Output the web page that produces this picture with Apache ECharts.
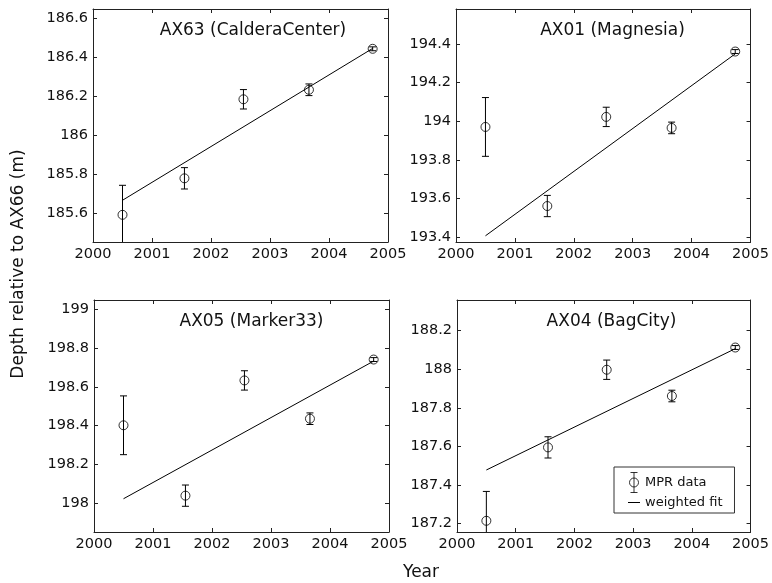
<!DOCTYPE html>
<html>
<head>
<meta charset="utf-8">
<script src="https://cdn.jsdelivr.net/npm/echarts@6/dist/echarts.min.js"></script>
<style>
  html, body { margin: 0; padding: 0; background: #fff; }
  #main { width: 772px; height: 583px; }
</style>
</head>
<body>
<div id="main"></div>
<script>
// data
var years = [2000.5, 2001.55, 2002.55, 2003.66, 2004.74];
var errs = [0.152, 0.055, 0.05, 0.03, 0.01];
var fitYears = [2000.5, 2004.74];

var names = ['AX63 (CalderaCenter)', 'AX01 (Magnesia)', 'AX05 (Marker33)', 'AX04 (BagCity)'];
var ax63 = [185.59, 185.778, 186.185, 186.234, 186.445];
var ax01 = [193.97, 193.561, 194.022, 193.965, 194.36];
var ax05 = [198.402, 198.038, 198.634, 198.436, 198.742];
var ax04 = [187.215, 187.595, 187.997, 187.861, 188.112];
var fit63 = [185.665, 186.447];
var fit01 = [193.407, 194.348];
var fit05 = [198.022, 198.734];
var fit04 = [187.478, 188.106];

var yTicks63 = [185.6, 185.8, 186, 186.2, 186.4, 186.6];
var yTicks01 = [193.4, 193.6, 193.8, 194, 194.2, 194.4];
var yTicks05 = [198, 198.2, 198.4, 198.6, 198.8, 199];
var yTicks04 = [187.2, 187.4, 187.6, 187.8, 188, 188.2];
var yRanges = [[185.45, 186.65], [193.375, 194.58], [197.85, 199.05], [187.157, 188.358]];

var values = [ax63, ax01, ax05, ax04];
var fits = [fit63, fit01, fit05, fit04];
var yTicks = [yTicks63, yTicks01, yTicks05, yTicks04];

// layout
var grids = [
  {left: 93, top: 9, width: 295, height: 233},
  {left: 456, top: 9, width: 295, height: 233},
  {left: 94, top: 300, width: 295, height: 232},
  {left: 457, top: 300, width: 294, height: 232}
];
var titleX = [248, 607.5, 246.5, 606.5];

var FONT = 'DejaVu Sans';
var INK = '#111';
var lineC = '#222';

var chart = echarts.init(document.getElementById('main'), null, {renderer: 'canvas'});

var xAxes = [], yAxes = [], series = [], titles = [];

grids.forEach(function (g, i) {
  // bottom x axis with labels
  xAxes.push({
    gridIndex: i, type: 'value', position: 'bottom',
    min: 2000, max: 2005, interval: 1,
    axisLine: {show: true, onZero: false, lineStyle: {color: lineC, width: 1}},
    axisTick: {show: true, inside: true, length: 4, lineStyle: {color: lineC}},
    axisLabel: {show: true, margin: 5, color: INK, fontFamily: FONT, fontSize: 14.5,
      formatter: function (v) { return String(v); }},
    splitLine: {show: false}
  });
  // top x axis, ticks only
  xAxes.push({
    gridIndex: i, type: 'value', position: 'top',
    min: 2000, max: 2005, interval: 1,
    axisLine: {show: true, onZero: false, lineStyle: {color: lineC, width: 1}},
    axisTick: {show: true, inside: true, length: 4, lineStyle: {color: lineC}},
    axisLabel: {show: false},
    splitLine: {show: false}
  });
  // left y axis with labels
  yAxes.push({
    gridIndex: i, type: 'value', position: 'left',
    min: yRanges[i][0], max: yRanges[i][1],
    axisLine: {show: true, onZero: false, lineStyle: {color: lineC, width: 1}},
    axisTick: {show: true, inside: true, length: 4, customValues: yTicks[i], lineStyle: {color: lineC}},
    axisLabel: {show: true, margin: 5, color: INK, fontFamily: FONT, fontSize: 14.5,
      customValues: yTicks[i], formatter: function (v) { return String(+v.toFixed(1)); }},
    splitLine: {show: false}
  });
  // right y axis, ticks only
  yAxes.push({
    gridIndex: i, type: 'value', position: 'right',
    min: yRanges[i][0], max: yRanges[i][1],
    axisLine: {show: true, onZero: false, lineStyle: {color: lineC, width: 1}},
    axisTick: {show: true, inside: true, length: 4, customValues: yTicks[i], lineStyle: {color: lineC}},
    axisLabel: {show: false},
    splitLine: {show: false}
  });

  titles.push({
    text: names[i], left: titleX[i], top: g.top + 8, textAlign: 'center',
    textStyle: {fontFamily: FONT, fontSize: 17, fontWeight: 'normal', color: INK}
  });

  var pts = years.map(function (x, k) { return [x, values[i][k], errs[k]]; });

  // error bars
  series.push({
    type: 'custom', name: 'err' + i,
    xAxisIndex: i * 2, yAxisIndex: i * 2,
    clip: true, silent: true,
    data: pts,
    renderItem: function (params, api) {
      var x = api.value(0), y = api.value(1), e = api.value(2);
      var hi = api.coord([x, y + e]);
      var lo = api.coord([x, y - e]);
      var w = 3.5;
      var st = {stroke: '#000', lineWidth: 1};
      return {
        type: 'group',
        children: [
          {type: 'line', shape: {x1: hi[0], y1: hi[1], x2: lo[0], y2: lo[1]}, style: st},
          {type: 'line', shape: {x1: hi[0] - w, y1: hi[1], x2: hi[0] + w, y2: hi[1]}, style: st},
          {type: 'line', shape: {x1: lo[0] - w, y1: lo[1], x2: lo[0] + w, y2: lo[1]}, style: st}
        ]
      };
    }
  });

  // open circles
  series.push({
    type: 'scatter', name: 'MPR data',
    xAxisIndex: i * 2, yAxisIndex: i * 2,
    symbol: 'circle', symbolSize: 9,
    itemStyle: {color: 'transparent', borderColor: '#000', borderWidth: 1},
    emphasis: {disabled: true},
    data: pts.map(function (p) { return [p[0], p[1]]; })
  });

  // weighted fit
  series.push({
    type: 'line', name: 'weighted fit',
    xAxisIndex: i * 2, yAxisIndex: i * 2,
    symbol: 'none',
    lineStyle: {color: '#000', width: 1},
    itemStyle: {color: '#000'},
    emphasis: {disabled: true},
    data: fitYears.map(function (x, k) { return [x, fits[i][k]]; })
  });
});

chart.setOption({
  animation: false,
  backgroundColor: '#fff',
  title: titles,
  grid: grids,
  xAxis: xAxes,
  yAxis: yAxes,
  legend: {
    orient: 'vertical', left: 614, top: 467,
    padding: [5, 12, 4, 14], itemGap: 3,
    itemWidth: 12, itemHeight: 20,
    borderColor: '#333', borderWidth: 1, backgroundColor: '#fff',
    selectedMode: false,
    textStyle: {fontFamily: FONT, fontSize: 13, color: INK},
    data: [
      {name: 'MPR data',
       icon: 'path://M4.5,0A4.5,4.5,0,1,1,-4.5,0A4.5,4.5,0,1,1,4.5,0M0,-10L0,10M-3.5,-10L3.5,-10M-3.5,10L3.5,10',
       itemStyle: {color: 'transparent', borderColor: '#000', borderWidth: 1}},
      {name: 'weighted fit',
       icon: 'path://M0,0L12,0L12,1L0,1Z',
       itemStyle: {color: '#000', borderWidth: 0}}
    ]
  },
  graphic: [
    {type: 'text', x: 19, y: 264, rotation: Math.PI / 2,
     style: {text: 'Depth relative to AX66 (m)', font: '17px "DejaVu Sans"', fill: INK,
       textAlign: 'center', textVerticalAlign: 'middle'}},
    {type: 'text', x: 421, y: 573,
     style: {text: 'Year', font: '17px "DejaVu Sans"', fill: INK,
       textAlign: 'center', textVerticalAlign: 'middle'}}
  ],
  series: series
});
</script>
</body>
</html>
